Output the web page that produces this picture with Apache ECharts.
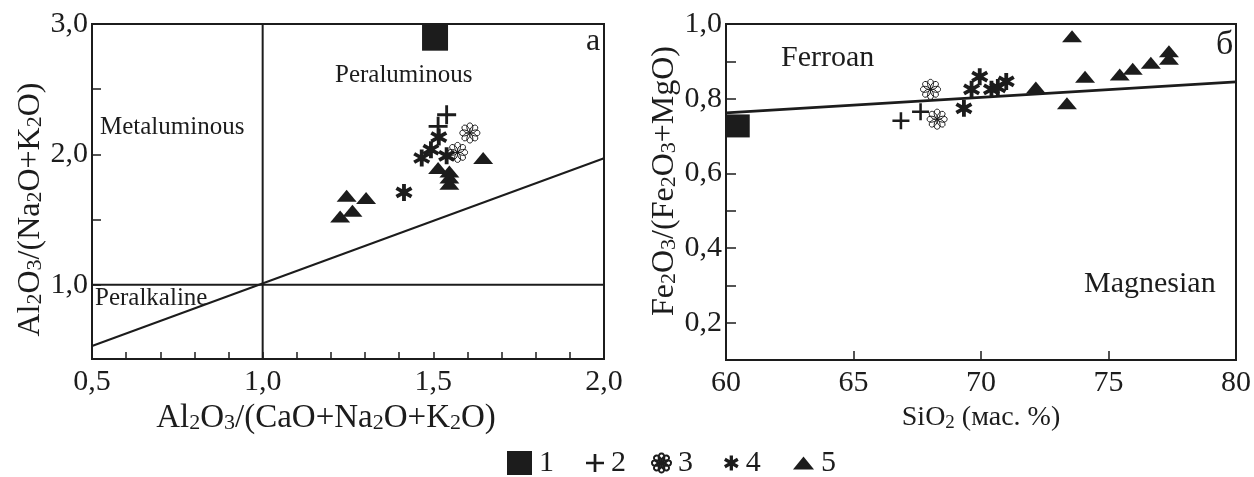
<!DOCTYPE html>
<html>
<head>
<meta charset="utf-8">
<script src="https://cdn.jsdelivr.net/npm/echarts@6/dist/echarts.min.js"></script>
<style>
html,body{margin:0;padding:0;background:#fff;}
#chart{width:1254px;height:477px;}
</style>
</head>
<body>
<div id="chart"></div>
<script>
// ---------- data ----------
// Panel a: A/CNK (x) vs A/NK (y)
const leftSquare = [[1.505, 2.895]];
const leftPlus   = [[1.539, 2.304], [1.514, 2.215]];
const leftFlower = [[1.607, 2.164], [1.571, 2.015]];
const leftStar   = [[1.516, 2.133], [1.493, 2.036], [1.466, 1.972], [1.539, 1.989], [1.414, 1.708]];
const leftTri    = [[1.514, 1.895], [1.646, 1.972], [1.547, 1.869], [1.547, 1.823], [1.547, 1.775],
                    [1.246, 1.683], [1.303, 1.665], [1.263, 1.568], [1.227, 1.524]];
const leftHLine  = [[0.5, 1.0], [2.0, 1.0]];
const leftVLine  = [[1.0, 0.43], [1.0, 3.0]];
const leftDiag   = [[0.5, 0.53], [2.0, 1.97]];
const leftXTicks = [0.5, 0.6, 0.7, 0.8, 0.9, 1.0, 1.1, 1.2, 1.3, 1.4, 1.5, 1.6, 1.7, 1.8, 1.9, 2.0];
const leftXLabels = [0.5, 1.0, 1.5, 2.0];
const leftYTicks = [1.0, 1.5, 2.0, 2.5, 3.0];
const leftYLabels = [1.0, 2.0, 3.0];

// Panel б: SiO2 (x) vs Fe2O3/(Fe2O3+MgO) (y)
const rightSquare = [[60.48, 0.727]];
const rightPlus   = [[66.86, 0.741], [67.63, 0.765]];
const rightFlower = [[68.02, 0.825], [68.28, 0.745]];
const rightStar   = [[69.33, 0.774], [69.63, 0.825], [69.95, 0.859], [70.41, 0.825], [70.66, 0.830], [70.99, 0.846]];
const rightTri    = [[73.57, 0.967], [72.15, 0.830], [73.37, 0.788], [74.08, 0.859], [75.44, 0.865],
                     [75.95, 0.880], [76.66, 0.896], [77.37, 0.927], [77.37, 0.907]];
const rightLine   = [[60, 0.762], [80, 0.845]];
const rightYLabels = [0.2, 0.4, 0.6, 0.8, 1.0];

const legendNames = ['1', '2', '3', '4', '5'];

// ---------- marker shapes ----------
function f(n){ return n.toFixed(3); }
function plusPath(w){
  return 'path://M-1,' + (-w) + 'L' + (-w) + ',' + (-w) + 'L' + (-w) + ',-1L' + w + ',-1L' + w + ',' + (-w) +
    'L1,' + (-w) + 'L1,' + w + 'L' + w + ',' + w + 'L' + w + ',1L' + (-w) + ',1L' + (-w) + ',' + w + 'L-1,' + w + 'Z';
}
function starPath(arms, w){
  let p = 'path://';
  const bars = arms / 2;
  for (let i = 0; i < bars; i++){
    const a = Math.PI / 2 + i * Math.PI / bars;
    const dx = Math.cos(a), dy = Math.sin(a), px = -dy, py = dx;
    const pts = [[dx + px*w, dy + py*w], [-dx + px*w, -dy + py*w], [-dx - px*w, -dy - py*w], [dx - px*w, dy - py*w]];
    p += 'M' + f(pts[0][0]) + ',' + f(pts[0][1]);
    for (let k = 1; k < 4; k++) p += 'L' + f(pts[k][0]) + ',' + f(pts[k][1]);
    p += 'Z';
  }
  return p;
}
function flowerPath(n){
  let p = 'path://';
  for (let i = 0; i < n; i++){
    const a = i * 2 * Math.PI / n;
    const dx = Math.cos(a), dy = Math.sin(a), px = -dy, py = dx;
    const w = 0.42;
    const c1 = [0.25*dx + w*px, 0.25*dy + w*py], c2 = [1.05*dx + w*0.9*px, 1.05*dy + w*0.9*py];
    const c3 = [1.05*dx - w*0.9*px, 1.05*dy - w*0.9*py], c4 = [0.25*dx - w*px, 0.25*dy - w*py];
    p += 'M0,0C' + f(c1[0]) + ',' + f(c1[1]) + ' ' + f(c2[0]) + ',' + f(c2[1]) + ' ' + f(dx) + ',' + f(dy) +
         'C' + f(c3[0]) + ',' + f(c3[1]) + ' ' + f(c4[0]) + ',' + f(c4[1]) + ' 0,0Z';
  }
  return p;
}
const SYM_PLUS = plusPath(0.15);
const SYM_STAR = starPath(6, 0.22);
const SYM_FLOWER = flowerPath(8);

const INK = '#1c1c1c';
const FONT = '"Liberation Serif", "Times New Roman", serif';

function scatter(name, data, gi, symbol, size, extra){
  return Object.assign({
    name: name, type: 'scatter', xAxisIndex: gi, yAxisIndex: gi, data: data,
    symbol: symbol, symbolSize: size,
    itemStyle: { color: INK, opacity: 1 },
    emphasis: { disabled: true }, z: 5
  }, extra || {});
}
function line(data, gi, width){
  return { type: 'line', xAxisIndex: gi, yAxisIndex: gi, data: data, symbol: 'none',
           lineStyle: { color: INK, width: width }, silent: true, z: 3, animation: false };
}
const flowerStyle = { itemStyle: { color: '#fff', borderColor: INK, borderWidth: 1, opacity: 1 } };

function comma(v, d){ return v.toFixed(d).replace('.', ','); }
function sub(size){ return { fontSize: size, fontFamily: FONT, color: INK, verticalAlign: 'bottom', lineHeight: Math.round(size*0.8) }; }

function legendItem(name, left, w, h){
  return { data: [name], left: left, top: 448, itemWidth: w, itemHeight: h, itemGap: 0,
           textStyle: { fontSize: 30, fontFamily: FONT, color: INK, padding: [0, 0, 0, 2] },
           selectedMode: false, inactiveColor: INK, padding: 0 };
}

const chart = echarts.init(document.getElementById('chart'), null, { renderer: 'canvas' });
chart.setOption({
  animation: false,
  backgroundColor: '#fff',
  textStyle: { fontFamily: FONT, color: INK },
  grid: [
    { left: 92, top: 24, width: 512, height: 335, show: true, borderColor: INK, borderWidth: 2, backgroundColor: 'transparent' },
    { left: 726, top: 24, width: 517, height: 336, show: true, borderColor: INK, borderWidth: 2, backgroundColor: 'transparent' }
  ],
  xAxis: [
    { gridIndex: 0, type: 'value', min: 0.5, max: 2.0,
      axisLine: { show: true, lineStyle: { color: INK, width: 2 } },
      axisTick: { show: true, inside: true, length: 7, customValues: leftXTicks, lineStyle: { color: INK, width: 1.5 } },
      splitLine: { show: false },
      axisLabel: { margin: 8, fontSize: 30, fontFamily: FONT, color: INK, customValues: leftXLabels,
        formatter: v => comma(v, 1) },
      name: 'Al{s|2}O{s|3}/(CaO+Na{s|2}O+K{s|2}O)', nameLocation: 'middle', nameGap: 35,
      nameTextStyle: { fontSize: 33, fontFamily: FONT, color: INK, lineHeight: 32, padding: [0, 44, 0, 0], rich: { s: sub(22) } }
    },
    { gridIndex: 1, type: 'value', min: 60, max: 80, interval: 5,
      axisLine: { show: true, lineStyle: { color: INK, width: 2 } },
      axisTick: { show: true, inside: true, length: 9, lineStyle: { color: INK, width: 1.5 } },
      splitLine: { show: false },
      axisLabel: { margin: 8, fontSize: 30, fontFamily: FONT, color: INK, showMinLabel: true, showMaxLabel: true },
      name: 'SiO{s|2} (мас. %)', nameLocation: 'middle', nameGap: 34,
      nameTextStyle: { fontSize: 28, fontFamily: FONT, color: INK, lineHeight: 30, rich: { s: sub(19) } }
    }
  ],
  yAxis: [
    { gridIndex: 0, type: 'value', min: 0.43, max: 3.0,
      axisLine: { show: true, lineStyle: { color: INK, width: 2 } },
      axisTick: { show: true, inside: true, length: 9, customValues: leftYTicks, lineStyle: { color: INK, width: 1.5 } },
      splitLine: { show: false },
      axisLabel: { margin: 4, fontSize: 30, fontFamily: FONT, color: INK, customValues: leftYLabels,
        formatter: v => comma(v, 1) },
      name: 'Al{s|2}O{s|3}/(Na{s|2}O+K{s|2}O)', nameLocation: 'middle', nameGap: 45, nameRotate: 90,
      nameTextStyle: { fontSize: 32, fontFamily: FONT, color: INK, lineHeight: 32, padding: [0, 36, 0, 0], rich: { s: sub(22) } }
    },
    { gridIndex: 1, type: 'value', min: 0.1, max: 1.0, interval: 0.1,
      axisLine: { show: true, lineStyle: { color: INK, width: 2 } },
      axisTick: { show: true, inside: true, length: 10, lineStyle: { color: INK, width: 1.5 } },
      splitLine: { show: false },
      axisLabel: { margin: 4, fontSize: 30, fontFamily: FONT, color: INK, customValues: rightYLabels,
        padding: [10, 0, 0, 0], formatter: v => comma(v, 1) },
      name: 'Fe{s|2}O{s|3}/(Fe{s|2}O{s|3}+MgO)', nameLocation: 'middle', nameGap: 45, nameRotate: 90,
      nameTextStyle: { fontSize: 32, fontFamily: FONT, color: INK, lineHeight: 32, padding: [0, 0, 0, 22], rich: { s: sub(22) } }
    }
  ],
  legend: [
    legendItem('1', 507, 25, 24),
    legendItem('2', 586, 18, 18),
    legendItem('3', 651, 19, 19),
    legendItem('4', 724, 15, 15),
    legendItem('5', 793, 21, 13)
  ],
  graphic: [
    { type: 'text', left: 100, top: 115, style: { text: 'Metaluminous', font: '25px ' + FONT, fill: INK } },
    { type: 'text', left: 335, top: 63, style: { text: 'Peraluminous', font: '25px ' + FONT, fill: INK } },
    { type: 'text', left: 95, top: 286, style: { text: 'Peralkaline', font: '25px ' + FONT, fill: INK } },
    { type: 'text', left: 586, top: 26, style: { text: 'а', font: '32px ' + FONT, fill: INK } },
    { type: 'text', left: 781, top: 43, style: { text: 'Ferroan', font: '30px ' + FONT, fill: INK } },
    { type: 'text', left: 1084, top: 269, style: { text: 'Magnesian', font: '30px ' + FONT, fill: INK } },
    { type: 'text', left: 1216, top: 28, style: { text: 'б', font: '34px ' + FONT, fill: INK } }
  ],
  series: [
    line(leftHLine, 0, 2), line(leftVLine, 0, 2), line(leftDiag, 0, 2),
    line(rightLine, 1, 2.6),
    scatter('1', leftSquare, 0, 'rect', 26),
    scatter('2', leftPlus, 0, SYM_PLUS, 19),
    scatter('3', leftFlower, 0, SYM_FLOWER, 20, flowerStyle),
    scatter('4', leftStar, 0, SYM_STAR, 17),
    scatter('5', leftTri, 0, 'triangle', [20, 12]),
    scatter('1', rightSquare, 1, 'rect', 23),
    scatter('2', rightPlus, 1, SYM_PLUS, 17),
    scatter('3', rightFlower, 1, SYM_FLOWER, 20, flowerStyle),
    scatter('4', rightStar, 1, SYM_STAR, 17),
    scatter('5', rightTri, 1, 'triangle', [20, 12])
  ]
});
</script>
</body>
</html>
